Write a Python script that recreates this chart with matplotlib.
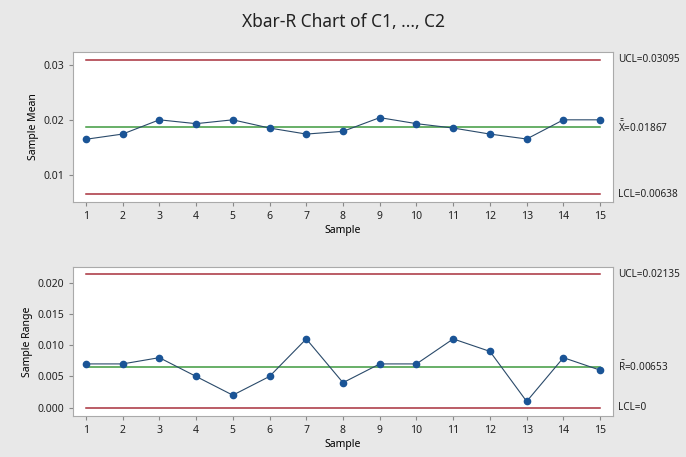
import matplotlib
matplotlib.use("Agg")
import matplotlib.pyplot as plt
import numpy as np

plt.rcParams['font.family'] = ['Noto Sans', 'DejaVu Sans']
plt.rcParams['mathtext.fontset'] = 'custom'
plt.rcParams['mathtext.rm'] = 'Noto Sans'

# datos
muestras = list(range(1, 16))
medias = [0.01645, 0.0174, 0.0200, 0.0193, 0.0200, 0.0185, 0.0174, 0.0179,
          0.0204, 0.0193, 0.0185, 0.0174, 0.0165, 0.0200, 0.0200]
rangos = [0.007, 0.007, 0.008, 0.005, 0.002, 0.005, 0.011, 0.004,
          0.007, 0.007, 0.011, 0.009, 0.001, 0.008, 0.006]

xbar_ucl, xbar_cl, xbar_lcl = 0.03095, 0.01867, 0.00638
r_ucl, r_cl, r_lcl = 0.02135, 0.00653, 0.0

rojo = '#a8303c'
verde = '#3f9a3f'
azul = '#1a5496'
fondo = '#e8e8e8'

fig = plt.figure(figsize=(6.86, 4.57), dpi=100, facecolor=fondo)
W, H = 686, 457

def ejes(x0, y0, x1, y1):
    return fig.add_axes([x0 / W, 1 - y1 / H, (x1 - x0) / W, (y1 - y0) / H])

ax1 = ejes(73, 52, 613, 202)
ax2 = ejes(73, 267, 613, 416)

def dibujar(ax, y, ucl, cl, lcl, etiquetas, ylab, yticks, ylim, fmt):
    ax.plot([1, 15], [ucl, ucl], color=rojo, lw=1.1)
    ax.plot([1, 15], [lcl, lcl], color=rojo, lw=1.1)
    ax.plot([1, 15], [cl, cl], color=verde, lw=1.1)
    ax.plot(muestras, y, color='#2a4a6a', lw=0.8, marker='o', ms=4.5,
            mfc=azul, mec=azul, zorder=3)
    ax.set_xlim(0.65, 15.35)
    ax.set_ylim(*ylim)
    ax.set_xticks(muestras)
    ax.set_yticks(yticks)
    ax.set_yticklabels([fmt % v for v in yticks])
    ax.tick_params(labelsize=7.5, length=3, color='#888888', colors='#222222')
    for s in ax.spines.values():
        s.set_color('#aaaaaa')
    ax.set_ylabel(ylab, fontsize=7.5, labelpad=3)
    ax.set_xlabel('Sample', fontsize=7.5, labelpad=2)
    for val, txt in zip([ucl, cl, lcl], etiquetas):
        ax.text(1.01, val, txt, transform=ax.get_yaxis_transform(),
                fontsize=7.2, va='center', ha='left', color='#222222')

dibujar(ax1, medias, xbar_ucl, xbar_cl, xbar_lcl,
        ['UCL=0.03095', r'$\bar{\bar{\mathrm{X}}}$=0.01867', 'LCL=0.00638'],
        'Sample Mean', [0.01, 0.02, 0.03], (0.0050, 0.03238), '%.2f')
dibujar(ax2, rangos, r_ucl, r_cl, r_lcl,
        ['UCL=0.02135', r'$\bar{\mathrm{R}}$=0.00653', 'LCL=0'],
        'Sample Range', [0.0, 0.005, 0.010, 0.015, 0.020], (-0.00133, 0.0225), '%.3f')

fig.text(343 / W, 1 - 22 / H, 'Xbar-R Chart of C1, ..., C2', ha='center',
         va='center', fontsize=12.5, color='#222222')

fig.savefig('out.png', dpi=100, facecolor=fondo)
